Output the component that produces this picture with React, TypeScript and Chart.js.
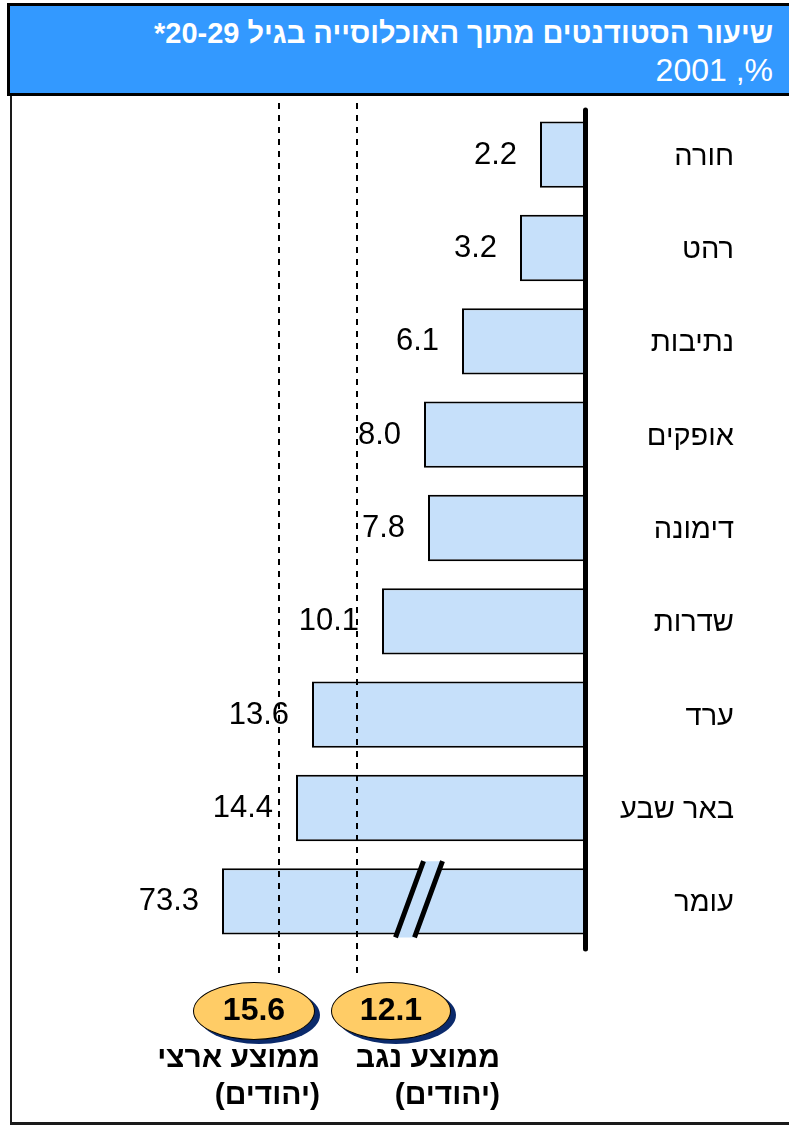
import React, { useEffect, useRef } from "react";
import { Chart, registerables } from "chart.js";

Chart.register(...registerables);

// ---------- data ----------
const categories = ["חורה", "רהט", "נתיבות", "אופקים", "דימונה", "שדרות", "ערד", "באר שבע", "עומר"];
const rates = [2.2, 3.2, 6.1, 8.0, 7.8, 10.1, 13.6, 14.4, 73.3];
const averageValues = ["15.6", "12.1"];
const averageLabels = [
  ["ממוצע ארצי", "(יהודים)"],
  ["ממוצע נגב", "(יהודים)"],
];
// where the dashed average lines sit on the bar scale in the picture
const averageLineAt = [15.25, 11.35];
const titleLine1 = "שיעור הסטודנטים מתוך האוכלוסייה בגיל 20-29*";
const titleLine2 = "%, 2001";

const X_MAX = 25; // scale maximum
const BROKEN_BAR_LENGTH = 18.1; // visible length of the broken (out of scale) bar
const BREAK_AT = 8.25; // where the break mark sits

const FONT = '"Liberation Sans", Arial, sans-serif';
const BAR_COLOR = "#C6E0FA";

const barValues = rates.map((v) => (v > X_MAX ? BROKEN_BAR_LENGTH : v));

const overlayPlugin = {
  id: "overlay",
  afterDatasetsDraw(chart: any) {
    const { ctx, chartArea, scales } = chart;
    const x = scales.x;
    const y = scales.y;
    const meta = chart.getDatasetMeta(0);
    ctx.save();

    // dashed average lines
    ctx.setLineDash([6, 6]);
    ctx.lineWidth = 2;
    ctx.strokeStyle = "#000";
    averageLineAt.forEach((v) => {
      const px = Math.round(x.getPixelForValue(v));
      ctx.beginPath();
      ctx.moveTo(px, chartArea.top - 5);
      ctx.lineTo(px, chartArea.bottom + 27);
      ctx.stroke();
    });
    ctx.setLineDash([]);

    // break mark on out-of-scale bars
    rates.forEach((v, i) => {
      if (v <= X_MAX) return;
      const bar: any = meta.data[i];
      const { y: cy, height: h } = bar.getProps(["y", "height"], true);
      const top = cy - h / 2 - 7;
      const bot = cy + h / 2 + 3;
      const cx = x.getPixelForValue(BREAK_AT);
      const run = 14;
      const off = 9.5;
      const l1t = cx - off + run, l1b = cx - off - run;
      const l2t = cx + off + run, l2b = cx + off - run;
      ctx.fillStyle = BAR_COLOR;
      ctx.beginPath();
      ctx.moveTo(l1t, top);
      ctx.lineTo(l2t, top);
      ctx.lineTo(l2b, bot);
      ctx.lineTo(l1b, bot);
      ctx.closePath();
      ctx.fill();
      ctx.strokeStyle = "#000";
      ctx.lineWidth = 5;
      ctx.beginPath();
      ctx.moveTo(l1t, top);
      ctx.lineTo(l1b, bot);
      ctx.moveTo(l2t, top);
      ctx.lineTo(l2b, bot);
      ctx.stroke();
    });

    // axis line
    const ax = x.getPixelForValue(0) + 1.5;
    ctx.strokeStyle = "#000";
    ctx.lineWidth = 5;
    ctx.lineCap = "round";
    ctx.beginPath();
    ctx.moveTo(ax, chartArea.top + 2);
    ctx.lineTo(ax, chartArea.bottom + 1);
    ctx.stroke();
    ctx.lineCap = "butt";

    // value labels
    ctx.fillStyle = "#000";
    ctx.font = `31px ${FONT}`;
    ctx.textAlign = "right";
    ctx.textBaseline = "alphabetic";
    meta.data.forEach((bar: any, i: number) => {
      const { x: bx, y: by } = bar.getProps(["x", "y"], true);
      ctx.fillText(rates[i].toFixed(1), bx - 23, by + 9);
    });

    // category labels
    ctx.font = `29px ${FONT}`;
    ctx.direction = "rtl";
    ctx.textAlign = "right";
    categories.forEach((c, i) => {
      const py = y.getPixelForValue(i);
      ctx.fillText(c, 734, py + 10);
    });
    ctx.restore();
  },
};

export default function App() {
  const canvasRef = useRef<HTMLCanvasElement | null>(null);

  useEffect(() => {
    if (!canvasRef.current) return;
    const chart = new Chart(canvasRef.current, {
      type: "bar",
      data: {
        labels: categories,
        datasets: [
          {
            data: barValues,
            backgroundColor: BAR_COLOR,
            borderColor: "#000",
            borderWidth: 2,
            barPercentage: 0.71,
            categoryPercentage: 1,
          },
        ],
      },
      options: {
        indexAxis: "y",
        responsive: false,
        animation: false,
        devicePixelRatio: 1,
        layout: { padding: { left: 84, right: 205, top: 108, bottom: 178 } },
        plugins: {
          legend: { display: false },
          tooltip: { enabled: false },
          title: { display: false },
        },
        scales: {
          x: {
            type: "linear",
            reverse: true,
            min: 0,
            max: X_MAX,
            display: false,
          },
          y: {
            type: "category",
            display: false,
          },
        },
      },
      plugins: [overlayPlugin],
    });
    return () => chart.destroy();
  }, []);

  const ellipses = [
    { left: 193, width: 122, labelRight: 320 },
    { left: 331, width: 120, labelRight: 500 },
  ];

  return (
    <div
      style={{
        position: "absolute",
        left: 0,
        top: 0,
        width: 789,
        height: 1126,
        overflow: "hidden",
        background: "#fff",
        fontFamily: FONT,
      }}
    >
      {/* outer frame */}
      <div
        style={{
          position: "absolute",
          left: 10,
          top: 90,
          width: 800,
          height: 1035,
          boxSizing: "border-box",
          borderLeft: "2px solid #1a1a1a",
          borderBottom: "3px solid #1a1a1a",
        }}
      />
      <canvas
        ref={canvasRef}
        width={789}
        height={1126}
        style={{ position: "absolute", left: 0, top: 0, width: 789, height: 1126 }}
      />
      {/* title box */}
      <div
        style={{
          position: "absolute",
          left: 7,
          top: 3,
          width: 800,
          height: 93,
          boxSizing: "border-box",
          border: "3px solid #000",
          background: "#3399FF",
        }}
      />
      <div
        dir="rtl"
        style={{
          position: "absolute",
          left: 20,
          width: 753,
          top: 15,
          height: 36,
          lineHeight: "36px",
          fontSize: 29,
          fontWeight: "bold",
          color: "#fff",
          textAlign: "right",
          whiteSpace: "nowrap",
        }}
      >
        {titleLine1}
      </div>
      <div
        dir="rtl"
        style={{
          position: "absolute",
          left: 20,
          width: 753,
          top: 51,
          height: 38,
          lineHeight: "38px",
          fontSize: 32,
          color: "#fff",
          textAlign: "right",
          whiteSpace: "nowrap",
        }}
      >
        {titleLine2}
      </div>
      {/* average ellipses and labels */}
      {ellipses.map((e, i) => (
        <React.Fragment key={i}>
          <div
            style={{
              position: "absolute",
              left: e.left,
              top: 982,
              width: e.width,
              height: 58,
              boxSizing: "border-box",
              borderRadius: "50%",
              background: "#FFCC66",
              border: "1.5px solid #000",
              boxShadow: "5px 4px 0 #0B2A6B",
              textAlign: "center",
              lineHeight: "52px",
              fontSize: 32,
              fontWeight: "bold",
              color: "#000",
            }}
          >
            {averageValues[i]}
          </div>
          <div
            dir="rtl"
            style={{
              position: "absolute",
              left: e.labelRight - 220,
              width: 220,
              top: 1038,
              lineHeight: "37px",
              fontSize: 30,
              fontWeight: "bold",
              color: "#000",
              textAlign: "right",
              whiteSpace: "nowrap",
            }}
          >
            <div>{averageLabels[i][0]}</div>
            <div>{averageLabels[i][1]}</div>
          </div>
        </React.Fragment>
      ))}
    </div>
  );
}
